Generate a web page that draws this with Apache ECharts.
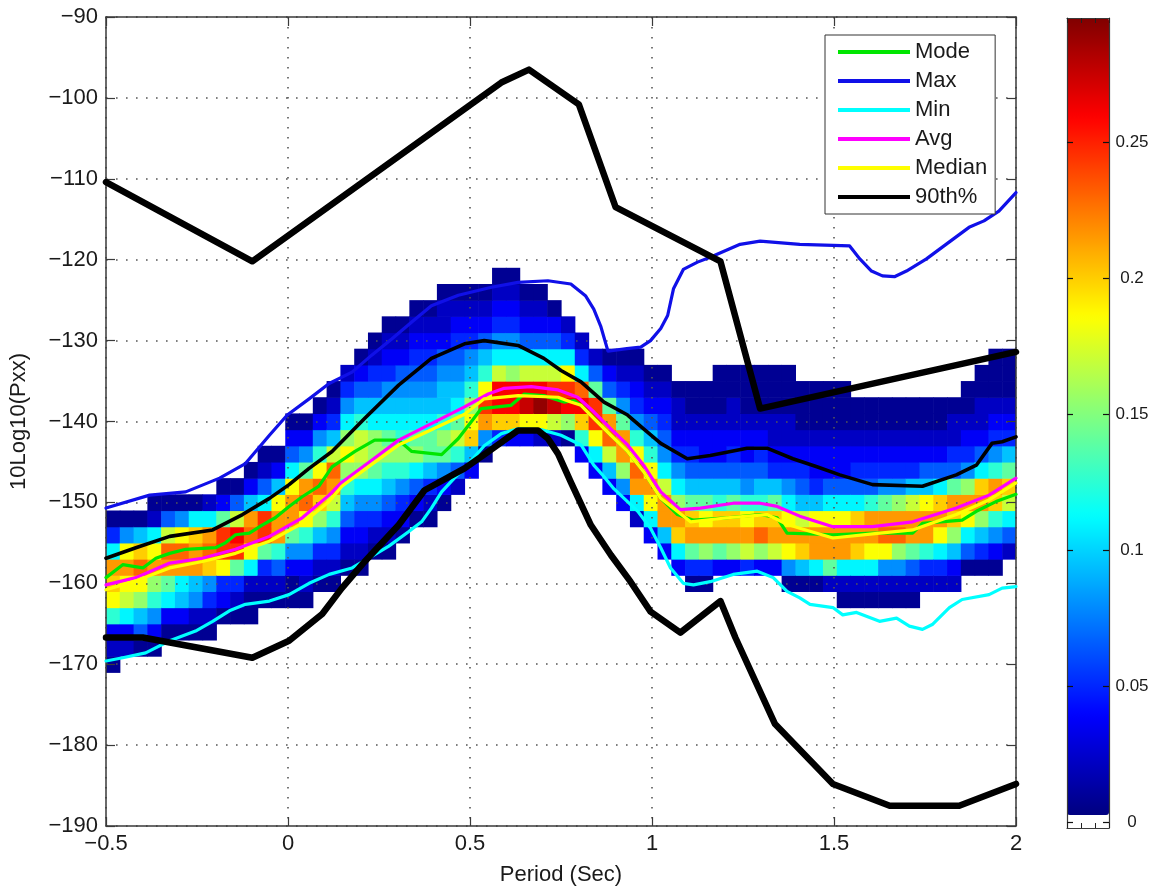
<!DOCTYPE html>
<html><head><meta charset="utf-8">
<script src="https://cdn.jsdelivr.net/npm/echarts@6/dist/echarts.min.js"></script>
<style>html,body{margin:0;padding:0;background:#fff}#c{width:1155px;height:891px}</style>
</head><body><div id="c"></div>
<script>
// ---------- axis ticks ----------
const periodTicks = [-0.5, 0, 0.5, 1, 1.5, 2];
const powerTicks = [-190, -180, -170, -160, -150, -140, -130, -120, -110, -100, -90];
const colorbarTicks = [0, 0.05, 0.1, 0.15, 0.2, 0.25];

// ---------- PDF heat map (log10 period bins, 2 dB bins) ----------
const binHalfWidth = 0.01894;   // half of a 1/8-octave bin in log10(period)
const binHalfHeight = 1;        // half of a 2 dB bin
const colPeriod = [-0.4811,-0.4432,-0.4053,-0.3674,-0.3295,-0.2917,-0.2538,-0.2159,-0.1780,-0.1402,
  -0.1023,-0.0644,-0.0265,0.0114,0.0492,0.0871,0.1250,0.1629,0.2008,0.2386,
  0.2765,0.3144,0.3523,0.3902,0.4280,0.4659,0.5038,0.5417,0.5795,0.6174,
  0.6553,0.6932,0.7311,0.7689,0.8068,0.8447,0.8826,0.9205,0.9583,0.9962,
  1.0341,1.0720,1.1098,1.1477,1.1856,1.2235,1.2614,1.2992,1.3371,1.3750,
  1.4129,1.4508,1.4886,1.5265,1.5644,1.6023,1.6402,1.6780,1.7159,1.7538,
  1.7917,1.8295,1.8674,1.9053,1.9432,1.9811];
const colBottom = [-170,-168,-168,-168,-166,-166,-166,-166,-164,-164,
  -164,-162,-162,-162,-162,-160,-160,-158,-158,-156,
  -156,-154,-152,-152,-150,-148,-146,-144,-142,-142,
  -142,-142,-142,-142,-144,-146,-148,-150,-152,-154,
  -156,-158,-160,-160,-158,-158,-158,-158,-158,-160,
  -160,-160,-160,-162,-162,-162,-162,-162,-162,-160,
  -160,-160,-158,-158,-158,-156];
// one letter per 2 dB cell, from the bottom cell upwards (probability levels below)
const colCells = ["abcimnohda","bchlmomfa","aegkmpnga","acfikomhba","achjoplea","acghopmfa","abfgoonha","abdfnpohb","acdmqqjca","abdjqrlea",
  "aabhmpogca","abdjqqheba","abeioomgca","aacfjoomheca","abcfimpojfca","abdgknpmifca","abdfiloplgdba","abcegikmkhfdb","abcdfhklligeca","abdfhjkkhgedba",
  "abcegikjhgfdcba","acdfikihgfecba","acehkjhgfedcba","abdgjjhgfedcba","acfjkiggfecbba","beiljhgfedcba","cgnmkigfdcba","afoqmigecba","dnrrlhfdcba","cnrrkhfdcba",
  "cmsrlhecba","bmtrlhecba","blsqlheca","akrqmhdb","cinrphdb","chmqqjeb","cglpojeca","cfkoojfdba","bhopmifdcba","chmomigecba",
  "cgoolhfedcba","chnokhfdcbba","adjonjgedcbaa","adkomjgeccbaa","cjonigeccbaaa","ckonjgedcbbaa","dlomifeccbaaa","ckpnigedcbaaa","clonjgdcbbaaa","afmomhfdcbbaaa",
  "agnolgedcbaaa","ahoomgdccbaaa","bjoomheccbaaa","abhoomheccbaaa","abhnonhedcbaa","abhmooiedcbaa","abfmpojfdcbaa","abfkpokfdcbaa","abejoolgdcbaa","bdioomgecbaa",
  "bdhmonhecbaa","bcgknojedbba","aehmokfdcbaa","adgkonhecbbaa","acfinoifdcbaaa","behlnjgdcbaaa"];
const levelValue = {a:0.008,b:0.022,c:0.037,d:0.05,e:0.065,f:0.08,g:0.095,h:0.11,i:0.125,j:0.14,
  k:0.155,l:0.17,m:0.185,n:0.2,o:0.215,p:0.23,q:0.245,r:0.26,s:0.275,t:0.29};

// ---------- statistic curves [log10 period, dB] ----------
const modeLine = [[-0.5,-159.3],[-0.454,-157.7],[-0.399,-158.1],[-0.363,-156.9],[-0.325,-156.3],[-0.281,-155.8],[-0.199,-155.6],[-0.172,-155.0],[-0.144,-154.0],[-0.106,-153.8],[-0.071,-152.8],[-0.035,-151.9],[0.003,-150.5],[0.039,-149.3],[0.085,-148.0],[0.121,-145.6],[0.184,-143.7],[0.238,-142.3],[0.304,-142.3],[0.340,-143.7],[0.422,-144.1],[0.468,-142.1],[0.504,-140.0],[0.531,-138.4],[0.613,-138.0],[0.649,-136.6],[0.703,-136.8],[0.758,-137.6],[0.786,-137.4],[0.805,-138.0],[0.832,-139.2],[0.887,-141.7],[0.933,-143.7],[0.977,-146.2],[1.024,-149.5],[1.070,-151.5],[1.114,-152.2],[1.207,-151.9],[1.297,-151.5],[1.344,-151.9],[1.371,-153.8],[1.497,-154.0],[1.606,-153.8],[1.716,-153.8],[1.743,-152.6],[1.852,-152.2],[1.891,-151.1],[1.945,-149.9],[2.0,-149.0]];
const maxLine = [[-0.5,-150.7],[-0.380,-149.1],[-0.281,-148.7],[-0.188,-147.0],[-0.117,-145.2],[-0.051,-141.7],[-0.002,-139.2],[0.058,-137.2],[0.113,-135.3],[0.176,-133.9],[0.230,-131.8],[0.285,-129.8],[0.340,-127.7],[0.394,-125.7],[0.468,-124.4],[0.559,-123.4],[0.632,-122.8],[0.714,-122.6],[0.777,-123.0],[0.818,-124.5],[0.840,-126.1],[0.859,-128.2],[0.879,-131.3],[0.931,-131.0],[0.969,-130.8],[0.996,-130.0],[1.024,-128.5],[1.043,-126.9],[1.059,-123.6],[1.086,-121.2],[1.125,-120.3],[1.160,-119.7],[1.242,-118.1],[1.297,-117.7],[1.406,-118.1],[1.543,-118.3],[1.571,-119.9],[1.603,-121.4],[1.633,-122.0],[1.666,-122.1],[1.699,-121.4],[1.754,-119.9],[1.817,-117.8],[1.871,-116.0],[1.912,-115.2],[1.953,-114.0],[2.0,-111.7]];
const minLine = [[-0.5,-169.6],[-0.454,-169.2],[-0.391,-168.6],[-0.325,-167.1],[-0.254,-165.9],[-0.207,-164.7],[-0.161,-163.4],[-0.117,-162.6],[-0.051,-162.2],[0.003,-161.4],[0.058,-160.0],[0.113,-158.9],[0.176,-158.1],[0.222,-156.9],[0.277,-155.4],[0.332,-153.6],[0.367,-152.4],[0.394,-150.7],[0.422,-148.7],[0.457,-147.0],[0.485,-145.8],[0.539,-143.0],[0.586,-141.5],[0.632,-140.9],[0.695,-141.0],[0.750,-141.7],[0.805,-142.9],[0.840,-145.4],[0.862,-146.5],[0.895,-148.3],[0.961,-151.1],[0.996,-153.2],[1.024,-155.6],[1.051,-158.1],[1.086,-160.0],[1.114,-160.2],[1.160,-159.8],[1.223,-158.9],[1.289,-158.5],[1.333,-159.3],[1.371,-161.0],[1.406,-161.8],[1.434,-162.6],[1.497,-163.0],[1.524,-163.9],[1.562,-163.6],[1.625,-164.7],[1.672,-164.3],[1.707,-165.3],[1.743,-165.7],[1.770,-165.1],[1.817,-163.0],[1.852,-162.0],[1.926,-161.4],[1.962,-160.6],[2.0,-160.4]];
const avgLine = [[-0.5,-160.2],[-0.418,-159.3],[-0.325,-157.5],[-0.235,-156.9],[-0.144,-155.8],[-0.051,-154.2],[0.039,-151.9],[0.113,-149.1],[0.148,-147.5],[0.23,-144.8],[0.304,-142.3],[0.485,-138.2],[0.550,-136.6],[0.594,-135.9],[0.668,-135.7],[0.742,-136.1],[0.796,-137.0],[0.840,-138.8],[0.887,-140.9],[0.933,-142.9],[0.977,-145.4],[1.024,-148.7],[1.078,-150.9],[1.133,-150.7],[1.223,-150.1],[1.297,-150.1],[1.344,-150.5],[1.406,-151.7],[1.497,-153.0],[1.606,-153.0],[1.716,-152.4],[1.836,-150.7],[1.926,-149.1],[2.0,-147.0]];
const medianLine = [[-0.5,-160.8],[-0.418,-159.7],[-0.325,-158.1],[-0.235,-157.3],[-0.144,-156.3],[-0.051,-154.8],[0.039,-152.6],[0.113,-149.9],[0.148,-148.0],[0.23,-145.3],[0.304,-142.9],[0.485,-139.1],[0.539,-137.2],[0.632,-136.8],[0.742,-137.0],[0.777,-137.6],[0.805,-138.0],[0.840,-139.6],[0.887,-141.7],[0.933,-143.7],[0.977,-146.2],[1.024,-149.5],[1.106,-152.4],[1.207,-151.9],[1.316,-151.5],[1.371,-152.7],[1.406,-153.2],[1.497,-154.4],[1.606,-153.9],[1.716,-153.4],[1.836,-151.5],[1.926,-149.7],[2.0,-147.6]];
const p90Line = [[-0.5,-156.9],[-0.418,-155.6],[-0.325,-154.2],[-0.207,-153.4],[-0.125,-151.5],[-0.051,-149.5],[0.003,-147.8],[0.058,-145.8],[0.121,-143.7],[0.211,-139.6],[0.304,-135.5],[0.394,-132.2],[0.485,-130.4],[0.539,-130.0],[0.632,-130.6],[0.703,-132.2],[0.750,-133.7],[0.805,-135.1],[0.868,-137.6],[0.933,-139.2],[0.977,-140.9],[1.024,-142.7],[1.097,-144.6],[1.160,-144.2],[1.261,-143.3],[1.316,-143.3],[1.387,-144.6],[1.453,-145.6],[1.516,-146.6],[1.606,-147.8],[1.743,-148.0],[1.836,-146.6],[1.891,-145.4],[1.934,-142.7],[1.962,-142.5],[2.0,-141.9]];
// noise model envelopes (thick black)
const highModel = [[-0.5,-110.4],[-0.098,-120.2],[0.586,-98.1],[0.662,-96.5],[0.799,-100.8],[0.900,-113.5],[1.188,-120.2],[1.297,-138.4],[2.0,-131.4]];
const lowModel = [[-0.5,-166.7],[-0.399,-166.7],[-0.098,-169.2],[0.003,-167.1],[0.094,-163.8],[0.148,-160.6],[0.211,-157.3],[0.304,-152.8],[0.375,-148.5],[0.485,-145.8],[0.539,-144.1],[0.632,-141.1],[0.687,-141.1],[0.714,-142.1],[0.742,-144.0],[0.777,-147.5],[0.832,-152.8],[0.887,-156.5],[0.941,-159.8],[0.996,-163.5],[1.078,-166.1],[1.188,-162.2],[1.229,-166.7],[1.338,-177.4],[1.497,-184.8],[1.653,-187.5],[1.844,-187.5],[2.0,-184.8]];

const jet = ['#000080','#0000ff','#0080ff','#00ffff','#80ff80','#ffff00','#ff8000','#ff0000','#800000'];

// ---------- build heat-map cells ----------
const cells = [];
colPeriod.forEach((xp, i) => {
  const s = colCells[i];
  for (let j = 0; j < s.length; j++) {
    cells.push([xp, colBottom[i] + 2 * j, levelValue[s[j]]]);
  }
});

const FONT = "'Liberation Sans', Arial, Helvetica, sans-serif";
const minus = v => String(v).replace('-', '\u2212');
const AX = '#3a3a3a';

function lineSeries(name, data, color, width, z) {
  return {name, type:'line', data, color, showSymbol:false, symbol:'none', clip:true,
    lineStyle:{color, width, join:'round', cap:'round'}, z: z || 5, animation:false, silent:true};
}
function frameAxis(extra) {
  return Object.assign({
    type:'value',
    axisLine:{show:true, onZero:false, lineStyle:{color:AX, width:1.5}},
    axisTick:{show:true, inside:true, length:9, lineStyle:{color:AX, width:1.2}},
    axisLabel:{show:false}, splitLine:{show:false}
  }, extra);
}

const chart = echarts.init(document.getElementById('c'), null, {renderer:'canvas'});
chart.setOption({
  backgroundColor:'#ffffff',
  animation:false,
  textStyle:{fontFamily:FONT},
  grid:[
    {left:103, top:17, width:913, height:812},
    {left:1067, top:18, width:42, height:810}
  ],
  xAxis:[
    frameAxis({gridIndex:0, min:-0.5, max:2, interval:0.5, position:'bottom', z:3,
     axisLabel:{show:true, fontSize:22, color:'#1a1a1a', margin:7, formatter:minus, fontFamily:FONT},
     splitLine:{show:true, lineStyle:{color:'#555', width:1.6, type:[1.6, 8.4]}},
     name:'Period (Sec)', nameLocation:'middle', nameGap:38,
     nameTextStyle:{fontSize:22, color:'#1a1a1a', fontFamily:FONT}}),
    frameAxis({gridIndex:0, min:-0.5, max:2, interval:0.5, position:'top', z:3}),
    frameAxis({gridIndex:1, min:0, max:3, interval:1, position:'bottom', z:10,
     axisLine:{show:true, onZero:false, lineStyle:{color:AX, width:1.2}},
     axisTick:{show:true, inside:true, length:5, lineStyle:{color:'#222'}}}),
    frameAxis({gridIndex:1, min:0, max:3, interval:1, position:'top', z:10,
     axisLine:{show:true, onZero:false, lineStyle:{color:AX, width:1.2}},
     axisTick:{show:true, inside:true, length:5, lineStyle:{color:'#222'}}})
  ],
  yAxis:[
    frameAxis({gridIndex:0, min:-190, max:-90, interval:10, position:'left', z:3,
     axisLabel:{show:true, fontSize:22, color:'#1a1a1a', margin:8, formatter:minus, fontFamily:FONT},
     splitLine:{show:true, lineStyle:{color:'#555', width:1.6, type:[1.6, 8.4]}},
     name:'10Log10(Pxx)', nameLocation:'middle', nameGap:76, nameRotate:90,
     nameTextStyle:{fontSize:22, color:'#1a1a1a', fontFamily:FONT}}),
    frameAxis({gridIndex:0, min:-190, max:-90, interval:10, position:'right', z:3}),
    frameAxis({gridIndex:1, min:-0.0022, max:0.2956, position:'left', z:10,
     axisLine:{show:true, onZero:false, lineStyle:{color:AX, width:1.2}},
     axisTick:{show:true, inside:true, length:6, customValues:colorbarTicks, lineStyle:{color:'#111', width:1.2}}}),
    frameAxis({gridIndex:1, min:-0.0022, max:0.2956, position:'right', z:10,
     axisLine:{show:true, onZero:false, lineStyle:{color:AX, width:1.2}},
     axisTick:{show:true, inside:true, length:6, customValues:colorbarTicks, lineStyle:{color:'#111', width:1.2}},
     axisLabel:{show:true, customValues:colorbarTicks,
       fontSize:17, color:'#1a1a1a', margin:23, align:'center', fontFamily:FONT}})
  ],
  visualMap:{
    type:'continuous', seriesIndex:0, dimension:2, min:0.0026, max:0.2956,
    inRange:{color:jet}, calculable:false, orient:'vertical', z:1,
    left:1067, top:18, itemWidth:42, itemHeight:797, padding:0,
    text:null, showLabel:false, hoverLink:false, realtime:false
  },
  legend:{
    data:['Mode','Max','Min','Avg','Median','90th%'],
    orient:'vertical', left:825, top:35, padding:[6, 8, 6, 13],
    itemWidth:72, itemHeight:4, itemGap:7, icon:'rect',
    backgroundColor:'#ffffff', borderColor:'#333', borderWidth:1, z:20,
    selectedMode:false,
    textStyle:{fontSize:22, color:'#1a1a1a', fontFamily:FONT}
  },
  series:[
    {type:'custom', name:'PDF', data:cells, xAxisIndex:0, yAxisIndex:0, z:2, clip:true,
     encode:{x:0, y:1}, silent:true,
     renderItem:function(params, api){
       const x = api.value(0), y = api.value(1);
       const p0 = api.coord([x - binHalfWidth, y + binHalfHeight]);
       const p1 = api.coord([x + binHalfWidth, y - binHalfHeight]);
       return {type:'rect',
         shape:{x:p0[0], y:p0[1], width:p1[0]-p0[0]+0.6, height:p1[1]-p0[1]+0.6},
         style:{fill:api.visual('color')}};
     }},
    lineSeries('Mode', modeLine, '#00e600', 3.2),
    lineSeries('Max', maxLine, '#1010e8', 3.2),
    lineSeries('Min', minLine, '#00ffff', 3.2),
    lineSeries('Avg', avgLine, '#ff00ff', 3.2),
    lineSeries('Median', medianLine, '#ffff00', 3.2),
    lineSeries('90th%', p90Line, '#000000', 3.6),
    lineSeries('High model', highModel, '#000000', 6.5, 6),
    lineSeries('Low model', lowModel, '#000000', 6.5, 6)
  ]
});
</script></body></html>
